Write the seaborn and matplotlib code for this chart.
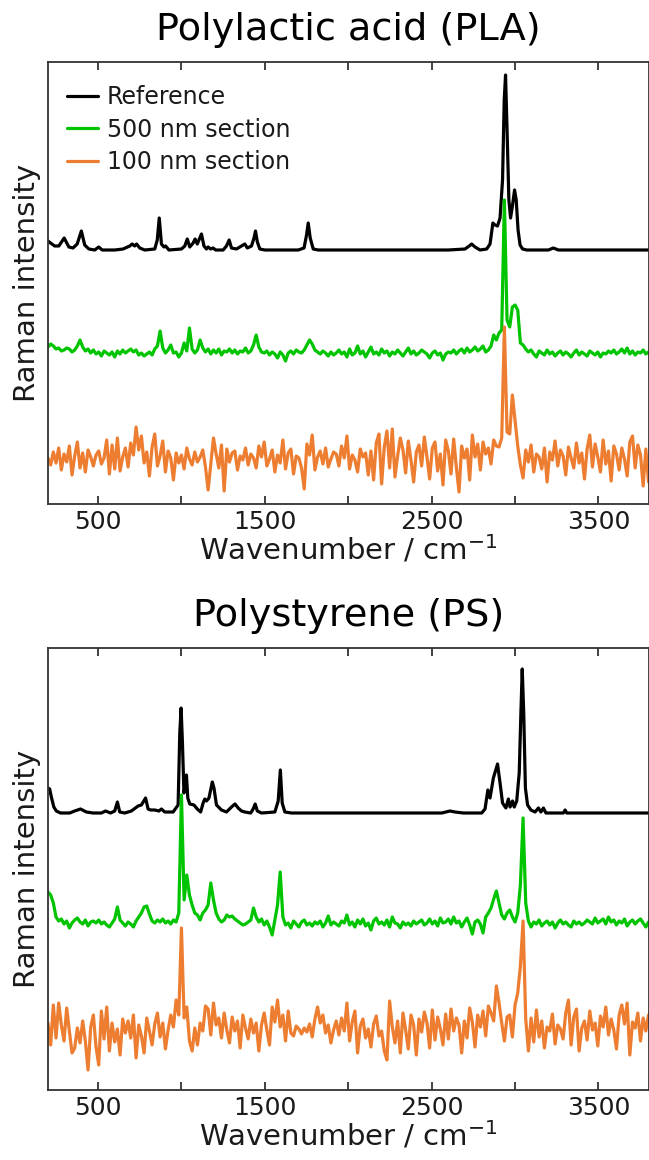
import numpy as np
import pandas as pd
import matplotlib
matplotlib.use("Agg")
import matplotlib.pyplot as plt
import seaborn as sns

# ---------------- data ----------------
# PLA reference spectrum (wavenumber, intensity)
pla_ref_wn = [200, 215, 240, 265, 297, 325, 350, 375, 400, 420, 445, 480, 504, 525, 600, 650,
              690, 705, 720, 731, 750, 780, 840, 855, 867, 880, 895, 905, 925, 1000, 1020, 1035,
              1050, 1070, 1082, 1095, 1110, 1120, 1135, 1150, 1160, 1175, 1190, 1205, 1250, 1270,
              1286, 1300, 1330, 1350, 1380, 1395, 1420, 1435, 1444, 1455, 1470, 1500, 1700, 1735,
              1750, 1760, 1772, 1790, 1820, 2600, 2700, 2725, 2740, 2760, 2790, 2830, 2850, 2867,
              2880, 2895, 2910, 2925, 2935, 2943, 2952, 2963, 2973, 2985, 2997, 3007, 3018, 3030,
              3045, 3070, 3200, 3229, 3260, 3800]
pla_ref_int = [9, 7, 4, 4, 12, 3, 2, 6, 19, 5, 1, 0, 3, 0, 0, 1,
               4, 6, 4, 6, 2, 0, 1, 10, 32, 6, 3, 4, 0, 1, 4, 11,
               3, 7, 11, 6, 12, 16, 4, 1, 3, 1, 2, 0, 0, 4,
               10, 2, 1, 3, 6, 2, 4, 12, 19, 8, 1, 0, 0, 2,
               15, 27, 12, 1, 0, 0, 1, 4, 6, 3, 0, 1, 6, 27,
               25, 24, 32, 70, 150, 175, 120, 50, 32, 45, 60, 50, 20, 5,
               1, 0, 0, 2, 0, 0]

# PS reference spectrum (wavenumber, intensity)
ps_ref_wn = [200, 210, 220, 235, 250, 275, 330, 360, 395, 430, 470, 520, 545, 575, 600, 616,
             630, 660, 700, 740, 760, 785, 800, 815, 840, 865, 880, 900, 950, 980, 990, 998,
             1006, 1015, 1025, 1030, 1038, 1050, 1075, 1095, 1115, 1130, 1140, 1150, 1165, 1185,
             1195, 1210, 1240, 1270, 1300, 1321, 1340, 1360, 1380, 1415, 1430, 1442, 1455, 1480,
             1560, 1580, 1593, 1604, 1620, 1660, 2560, 2610, 2640, 2690, 2800, 2820, 2837, 2850,
             2870, 2895, 2910, 2925, 2945, 2960, 2970, 2985, 2995, 3010, 3025, 3035, 3043, 3052,
             3062, 3075, 3095, 3120, 3140, 3155, 3170, 3185, 3290, 3300, 3310, 3800]
ps_ref_int = [25, 24, 16, 6, 2, 0, 0, 2, 4, 1, 0, 0, 2, 0, 2, 11,
              1, 0, 2, 7, 8, 15, 4, 3, 3, 2, 4, 1, 1, 8, 80, 105,
              70, 20, 30, 38, 15, 9, 8, 4, 1, 10, 14, 12, 15, 31,
              25, 8, 3, 1, 6, 9, 5, 2, 1, 0, 4, 9, 2, 0,
              1, 12, 43, 10, 1, 0, 0, 2, 1, 0, 0, 4, 23, 15,
              35, 49, 30, 10, 5, 14, 6, 12, 6, 12, 40, 100, 144, 100,
              25, 8, 3, 1, 5, 1, 5, 0, 0, 3, 0, 0]

# thin-section spectra, sampled every 16 cm-1 from 200 to 3800 cm-1
pla_500 = [
    8, 11, 9, 6, 7, 4, 5, 7, 6, 3,
    5, 9, 15, 8, 4, 6, 2, 5, 1, 3,
    -1, 4, 2, 0, 3, -2, 4, 1, 5, 2,
    4, 6, 3, 5, 0, 2, -1, 1, 3, 0,
    6, 9, 24, 7, 2, 5, 10, 2, 3, -2,
    2, 12, 4, 27, 6, 2, 5, 15, 7, 3,
    6, 1, 5, 2, 6, 0, 4, 3, 6, 2,
    5, 1, 4, 3, 7, 2, 4, 10, 20, 8,
    3, 2, 4, 0, 3, 1, -3, 3, 0, -6,
    2, 4, 1, 5, 3, 2, 5, 10, 15, 11,
    5, 3, 1, 4, 2, -1, 3, 0, 2, 5,
    1, 3, -2, 6, 0, 2, 9, 1, 4, -2,
    3, 8, 1, 3, 0, 6, 2, 4, -1, 3,
    1, 5, 2, -1, 3, 7, 1, 4, 0, 2,
    5, 3, 1, -3, 2, 4, 0, 2, -5, 1,
    3, 2, 5, 1, 4, 6, 2, 7, 3, 5,
    8, 4, 6, 9, 3, 5, 9, 20, 15, 22,
    25, 155, 35, 28, 48, 50, 45, 12, 10, 6,
    3, 5, 1, -2, 4, 2, 0, 5, 1, 3,
    -1, 2, 4, 0, 3, 1, -2, 2, 5, 0,
    3, 1, -1, 4, 2, 0, 3, -2, 2, 1,
    4, 2, 5, 1, 3, 6, 2, 7, 1, 4,
    0, 3, 2, 5, 1, 3]

pla_100 = [
    2, -5, 8, -3, 12, -10, 6, -2, 14, -15,
    4, 18, -8, 7, -12, 10, 3, -6, 5, 9,
    -4, 2, 20, -14, 15, -9, 22, -11, 3, 12,
    -7, 17, 5, 33, 10, 24, -3, 8, -16, 13,
    26, -6, 4, 19, -12, 9, 2, -20, 7, -3,
    5, -9, 12, 1, -5, 8, -2, 3, 10, -7,
    -30, -4, 22, 6, -8, 15, -31, 11, -2, 7,
    9, -10, 4, 0, 12, -5, 6, 2, -8, 14,
    3, 18, -6, 1, 10, -12, 5, -3, 20, -9,
    7, 11, -14, 4, 2, -8, -29, 16, 5, 25,
    -10, 3, 9, -4, 12, -7, 1, 8, 6, -6,
    14, 2, 24, -9, 5, 0, -12, 11, 3, 7,
    -15, 9, -20, 17, 26, -24, 13, 29, -8, 31,
    -17, 4, 22, 10, -13, 19, 0, -22, 8, 15,
    -6, 23, 3, -19, 12, 18, -11, 6, -25, 20,
    9, -14, 21, -7, -32, 14, 2, 11, -20, 25,
    3, 16, -10, 18, 6, 12, -4, 20, 14, 13,
    22, 133, 28, 26, 65, 40, 14, -5, -18, 10,
    -2, 15, -12, 6, 3, -9, 12, -22, 8, 0,
    19, -6, 10, 4, -15, 13, 2, -8, 17, -3,
    7, -19, 11, 25, -7, 16, 3, -12, 20, -4,
    9, -21, 14, 6, -10, 12, 1, -16, 18, 24,
    -8, 15, 5, -26, 11, -22]

ps_500 = [
    33, 30, 22, 8, 4, 6, 1, 4, -3, 2,
    5, 7, 3, 1, 5, -1, 3, 4, 2, 5,
    1, 3, 0, -2, 2, 6, 18, 5, 2, -1,
    3, 1, -2, 4, 8, 12, 18, 19, 11, 4,
    2, 5, 3, 6, 2, 4, 1, 5, 3, 12,
    130, 25, 50, 30, 20, 12, 10, 5, 12, 15,
    20, 42, 25, 12, 6, 3, 5, 10, 8, 9,
    6, 4, 2, 0, 1, 3, 5, 17, 8, 3,
    6, 0, 4, -2, -10, 5, 20, 53, 8, 0,
    2, -3, 4, 1, -2, 3, 5, 0, 2, -1,
    3, 1, 4, -2, 2, 9, 0, 3, 1, -1,
    4, 2, 10, 0, 3, -2, 5, 1, 6, -1,
    2, -5, 4, 7, 1, 3, 0, 5, -2, 8,
    2, 1, -3, 3, 0, 2, -1, 4, 1, 3,
    5, 0, 2, 6, 1, 4, -1, 7, 2, 3,
    6, 1, 8, 2, 4, -2, 3, 7, 0, -9,
    3, 5, 1, -8, 8, 12, 17, 26, 34, 22,
    10, 6, 12, 15, 8, 3, 12, 40, 107, 22,
    4, -2, 3, 1, 5, -1, 2, 4, 0, 3,
    -3, 2, 5, 1, 3, 0, -2, 4, 1, 3,
    0, 2, 5, 3, 1, 7, 2, 4, 6, 1,
    8, 3, 5, 0, 4, 2, 6, -1, 3, 5,
    1, 4, 6, 2, -2, 3]

ps_100 = [
    10, -12, 28, -5, 30, 8, -8, 25, 2, -20,
    -15, 5, -10, 12, -8, -37, 6, 18, -14, -32,
    22, -6, 26, -18, 10, -9, 4, -22, 14, 0,
    12, -5, 18, -25, 8, -3, -20, 15, 2, -12,
    9, 20, -4, 10, -16, 3, 18, 6, 33, 18,
    105, 15, 26, -8, -18, 5, -12, 10, 2, 27,
    24, -2, 30, 8, 15, -5, 20, 3, -10, 16,
    2, 12, -15, 18, 5, -6, 14, 0, 10, -18,
    8, 20, 3, -12, 26, 11, 33, 6, 18, -8,
    22, 0, -3, 7, 4, -1, 5, 1, 9, -4,
    14, 26, 10, 18, 0, 8, -10, 3, 12, -2,
    15, 2, 30, -8, 11, 22, -20, 7, 14, -5,
    4, -14, 9, 17, -3, 2, -18, -27, 32, 6,
    -10, 12, -20, 20, 3, -16, 18, 8, -22, 14,
    1, 21, 10, -15, 23, -7, 16, 4, -12, 19,
    -6, 24, 2, 15, 8, -20, 12, -5, 25, 11,
    -14, 18, 6, 22, -3, 27, 20, 12, 47, 30,
    10, -8, 16, 18, -4, 28, 40, 67, 112, 14,
    -18, 15, -9, 23, -4, 12, -15, 6, 2, 19,
    -11, 8, 4, -6, 20, 33, -12, 16, 24, -18,
    5, 12, -7, 22, 3, 10, -13, 17, 6, 26,
    -2, 14, 3, -16, 18, 28, 9, 30, -22, 11,
    5, 20, -8, 15, 2, 18]

titles = ["Polylactic acid (PLA)", "Polystyrene (PS)"]
series_labels = ["Reference", "500 nm section", "100 nm section"]
tick_values = [500, 1000, 1500, 2000, 2500, 3000, 3500]
tick_labels = ["500", "", "1500", "", "2500", "", "3500"]

# ---------------- style ----------------
sns.set_style("ticks")
plt.rcParams["font.family"] = ["DejaVu Sans"]
colors = ["#000000", "#00c400", "#ed7d31"]
offsets = {"PLA": [254, 149, 44], "PS": [277, 165, 57]}
text_col = "#1a1a1a"

fig = plt.figure(figsize=(6.49, 11.6), dpi=100)
ax1 = fig.add_axes([48 / 649, 1 - 504 / 1160, 1 - 48 / 649 - 0.5 / 649, 442 / 1160])
ax2 = fig.add_axes([48 / 649, 1 - 1090 / 1160, 1 - 48 / 649 - 0.5 / 649, 442 / 1160])


def grid_for(vals):
    return np.linspace(200, 3800, len(vals))


panels = [
    (ax1, "PLA", (pla_ref_wn, pla_ref_int), pla_500, pla_100),
    (ax2, "PS", (ps_ref_wn, ps_ref_int), ps_500, ps_100),
]

for i, (ax, key, ref, s500, s100) in enumerate(panels):
    off = offsets[key]
    df_ref = pd.DataFrame({"wn": ref[0], "y": np.array(ref[1]) + off[0]})
    df_500 = pd.DataFrame({"wn": grid_for(s500), "y": np.array(s500) + off[1]})
    df_100 = pd.DataFrame({"wn": grid_for(s100), "y": np.array(s100) + off[2]})
    for df, c, lab in zip([df_ref, df_500, df_100], colors, series_labels):
        sns.lineplot(data=df, x="wn", y="y", ax=ax, color=c, lw=2.3, sort=False,
                     estimator=None, label=lab if i == 0 else None, legend=False)
    ax.set_xlim(200, 3800)
    ax.set_ylim(0, 442)
    ax.set_yticks([])
    ax.set_xticks(tick_values)
    ax.set_xticklabels(tick_labels)
    ax.tick_params(axis="x", direction="in", top=True, bottom=True, length=6, width=1.3,
                   labelsize=18, colors="#333333", labelcolor=text_col, pad=4)
    for sp in ax.spines.values():
        sp.set_visible(True)
        sp.set_linewidth(1.3)
        sp.set_color("#333333")
    ax.set_xlabel("Wavenumber / cm$^{-1}$", fontsize=21, color=text_col, labelpad=0)
    ax.set_ylabel("Raman intensity", fontsize=21, color=text_col, labelpad=5)
    ax.set_title(titles[i], fontsize=27.5, color="#000000", pad=16)

ax1.legend(loc="upper left", bbox_to_anchor=(0.0, 0.99), frameon=False, fontsize=17,
           handlelength=1.3, handletextpad=0.4, labelspacing=0.35, borderaxespad=0.4,
           borderpad=0.4)
for t in ax1.get_legend().get_texts():
    t.set_color(text_col)

fig.savefig("out.png", dpi=100)
